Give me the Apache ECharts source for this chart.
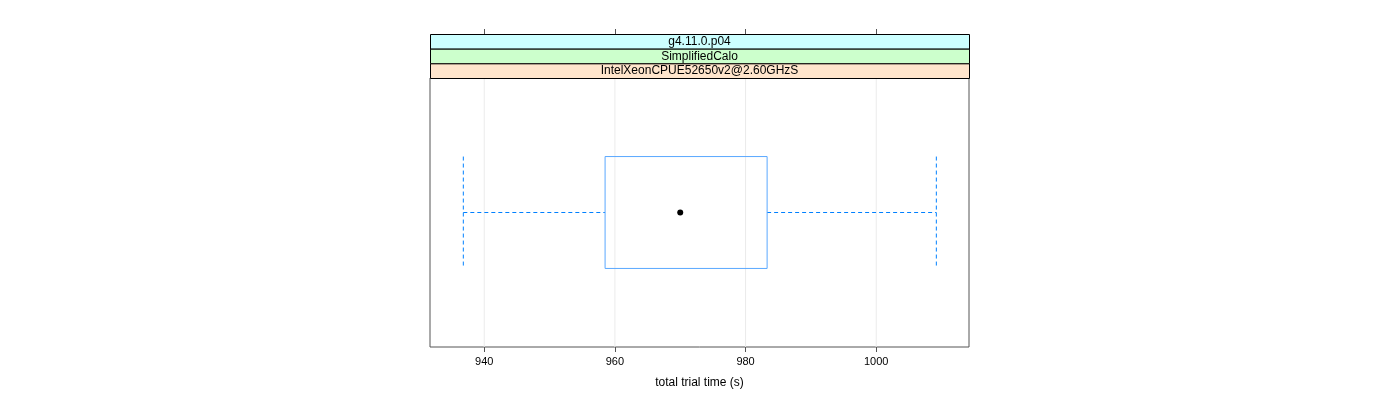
<!DOCTYPE html>
<html>
<head>
<meta charset="utf-8">
<script src="https://cdn.jsdelivr.net/npm/echarts@6/dist/echarts.min.js"></script>
<style>html,body{margin:0;padding:0;background:#fff}#c{width:1400px;height:400px}</style>
</head>
<body>
<div id="c"></div>
<script>
// ---- data ----
const stripLabels = ['g4.11.0.p04', 'SimplifiedCalo', 'IntelXeonCPUE52650v2@2.60GHzS'];
const stripColors = ['#ccffff', '#ccffcc', '#ffe5cc'];
const categories = ['IntelXeonCPUE52650v2@2.60GHzS'];
// [lower whisker, Q1, median, Q3, upper whisker]
const boxStats = [[936.8, 958.5, 970.0, 983.3, 1009.2]];
const xTicks = [940, 960, 980, 1000];
const xMin = 931.7, xMax = 1014.2;
const xTitle = 'total trial time (s)';

// ---- layout ----
const G = {left: 430, right: 431, top: 78, bottom: 53};
const stripTop = 34, stripH = 44 / 3;
const panelW = 1400 - G.left - G.right;
const FONT = 'Liberation Sans, Arial, sans-serif';

const chart = echarts.init(document.getElementById('c'), null, {renderer: 'canvas'});

const graphics = [];
stripLabels.forEach((lab, i) => {
  graphics.push({
    type: 'rect', left: G.left, top: stripTop + i * stripH, z: 10,
    shape: {width: panelW, height: stripH},
    style: {fill: stripColors[i], stroke: '#000', lineWidth: 1}
  });
  graphics.push({
    type: 'text', x: G.left + panelW / 2, y: stripTop + i * stripH + stripH / 2 + 0.5, z: 11,
    style: {text: lab, fill: '#000', font: '12px ' + FONT, align: 'center', verticalAlign: 'middle'}
  });
});

const boxData = boxStats.map((s, i) => [i].concat(s));

chart.setOption({
  animation: false,
  grid: {left: G.left, right: G.right, top: G.top, bottom: G.bottom, show: true, borderColor: '#555', borderWidth: 1, backgroundColor: 'transparent'},
  xAxis: [{
    type: 'value', min: xMin, max: xMax, position: 'bottom',
    axisLine: {show: false},
    axisTick: {show: true, customValues: xTicks, length: 5, lineStyle: {color: '#555'}},
    axisLabel: {show: true, customValues: xTicks, margin: 9, color: '#000', fontSize: 11, fontFamily: FONT,
      formatter: v => String(v)},
    splitLine: {show: false},
    name: xTitle, nameLocation: 'middle', nameGap: 30,
    nameTextStyle: {color: '#000', fontSize: 12, fontFamily: FONT}
  }, {
    type: 'value', min: xMin, max: xMax, position: 'top', offset: 44,
    axisLine: {show: false},
    axisTick: {show: true, customValues: xTicks, length: 5, lineStyle: {color: '#555'}},
    axisLabel: {show: false},
    splitLine: {show: false}
  }],
  yAxis: {
    type: 'category', data: categories,
    axisLine: {show: false}, axisTick: {show: false}, axisLabel: {show: false}, splitLine: {show: false}
  },
  graphic: graphics,
  series: [{
    type: 'custom', z: 1,
    data: xTicks.map(v => [v]),
    encode: {x: 0},
    renderItem: function (params, api) {
      const p = api.coord([api.value(0), 0]);
      const cs = params.coordSys;
      return {type: 'line', shape: {x1: p[0], y1: cs.y, x2: p[0], y2: cs.y + cs.height},
        style: {stroke: '#ebebeb', lineWidth: 1}};
    }
  }, {
    type: 'custom', z: 5,
    data: boxData,
    encode: {y: 0, x: [1, 2, 3, 4, 5]},
    renderItem: function (params, api) {
      const cat = api.value(0);
      const lo = api.coord([api.value(1), cat]);
      const q1 = api.coord([api.value(2), cat]);
      const md = api.coord([api.value(3), cat]);
      const q3 = api.coord([api.value(4), cat]);
      const hi = api.coord([api.value(5), cat]);
      const band = api.size([0, 1])[1];
      const h = band * 0.416;
      const cy = md[1];
      const dash = {stroke: '#0080ff', lineWidth: 1, lineDash: [4, 3], fill: null};
      return {type: 'group', children: [
        {type: 'line', shape: {x1: lo[0], y1: cy, x2: q1[0], y2: cy}, style: dash},
        {type: 'line', shape: {x1: q3[0], y1: cy, x2: hi[0], y2: cy}, style: dash},
        {type: 'line', shape: {x1: lo[0], y1: cy - h / 2, x2: lo[0], y2: cy + h / 2}, style: dash},
        {type: 'line', shape: {x1: hi[0], y1: cy - h / 2, x2: hi[0], y2: cy + h / 2}, style: dash},
        {type: 'rect', shape: {x: q1[0], y: cy - h / 2, width: q3[0] - q1[0], height: h},
          style: {stroke: '#5aa8ff', lineWidth: 1, fill: 'rgba(0,0,0,0)'}},
        {type: 'circle', shape: {cx: md[0], cy: cy, r: 3}, style: {fill: '#000'}}
      ]};
    }
  }]
});
</script>
</body>
</html>
